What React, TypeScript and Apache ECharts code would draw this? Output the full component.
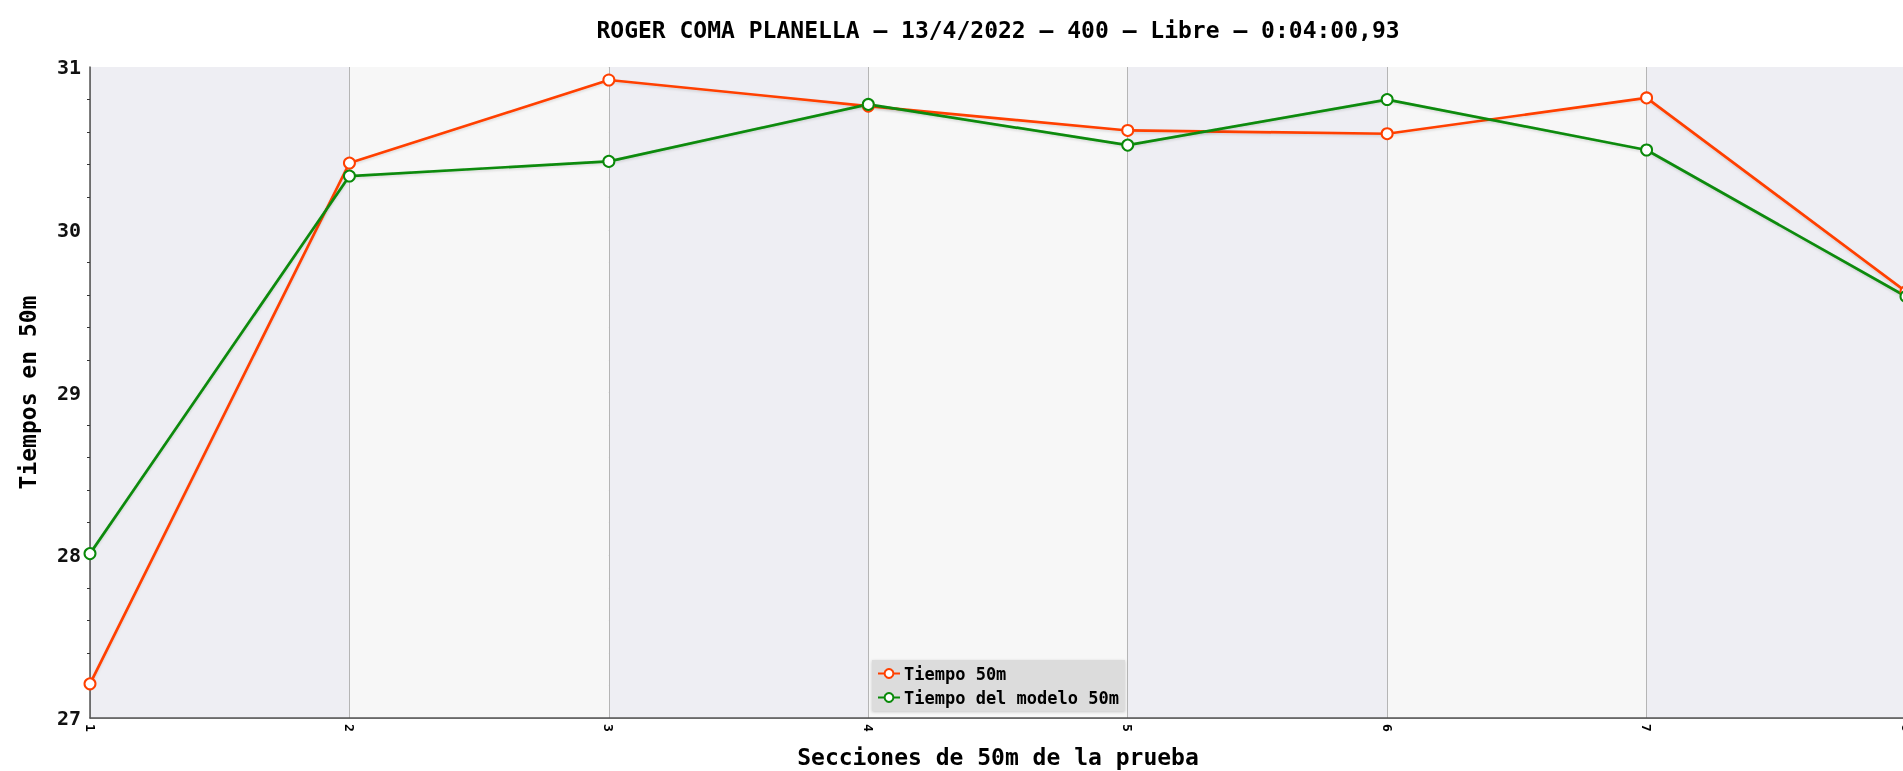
import React, { useEffect, useRef } from "react";
import * as echarts from "echarts";

const sections = [1, 2, 3, 4, 5, 6, 7, 8];
const tiempo50 = [27.21, 30.41, 30.92, 30.76, 30.61, 30.59, 30.81, 29.62];
const tiempoModelo50 = [28.01, 30.33, 30.42, 30.77, 30.52, 30.8, 30.49, 29.59];
const seriesNames = ["Tiempo 50m", "Tiempo del modelo 50m"];
const titleText = "ROGER COMA PLANELLA – 13/4/2022 – 400 – Libre – 0:04:00,93";
const xName = "Secciones de 50m de la prueba";
const yName = "Tiempos en 50m";

const FONT = "'DejaVu Sans Mono', monospace";

export default function App() {
  const ref = useRef<HTMLDivElement>(null);
  useEffect(() => {
    if (!ref.current) return;
    document.documentElement.style.overflow = "hidden";
    document.body.style.overflow = "hidden";
    const chart = echarts.init(ref.current, undefined, { renderer: "svg" });
    const mk = (vals: number[]) => sections.map((s, i) => [s, vals[i]]);
    const lineSeries = (name: string, vals: number[], color: string) => ({
      name,
      type: "line",
      data: mk(vals),
      symbol: "emptyCircle",
      symbolSize: 11,
      color,
      lineStyle: {
        width: 2.7,
        color,
        shadowColor: "rgba(0,0,0,0.12)",
        shadowBlur: 2,
        shadowOffsetY: 1.5,
      },
      itemStyle: { color, borderWidth: 2.7 },
      clip: false,
      z: 3,
    });
    chart.setOption({
      animation: false,
      title: {
        text: titleText,
        left: 998,
        top: 18,
        padding: 0,
        textAlign: "center",
        textStyle: { fontFamily: FONT, fontWeight: "bold", fontSize: 23, color: "#000" },
      },
      grid: {
        left: 90,
        top: 67,
        width: 1816,
        height: 651,
        containLabel: false,
        outerBoundsMode: "none",
      },
      legend: {
        orient: "vertical",
        left: 872,
        top: 660,
        backgroundColor: "#dcdcdc",
        padding: [5, 6, 5, 5],
        itemGap: 7,
        itemWidth: 22,
        itemHeight: 11,
        shadowBlur: 3,
        shadowColor: "rgba(0,0,0,0.2)",
        shadowOffsetY: 1,
        textStyle: { fontFamily: FONT, fontWeight: "bold", fontSize: 17, color: "#000", padding: [0, 0, 0, -1] },
        data: seriesNames,
      },
      xAxis: {
        type: "value",
        min: 1,
        max: 8,
        interval: 1,
        name: xName,
        nameLocation: "middle",
        nameGap: 27,
        nameTextStyle: { fontFamily: FONT, fontWeight: "bold", fontSize: 23, color: "#000" },
        axisLine: { show: true, lineStyle: { color: "#555", width: 1.5 } },
        axisTick: { show: false },
        axisLabel: {
          rotate: -90,
          margin: 6,
          fontFamily: FONT,
          fontWeight: "bold",
          fontSize: 13,
          color: "#000",
          showMaxLabel: true,
          showMinLabel: true,
        },
        splitLine: { show: true, lineStyle: { color: "#b5b5b5", width: 1 } },
        splitArea: { show: true, areaStyle: { color: ["#eeeef3", "#f7f7f7"] } },
      },
      yAxis: {
        type: "value",
        min: 27,
        max: 31,
        interval: 1,
        name: yName,
        nameLocation: "middle",
        nameGap: 51,
        nameTextStyle: { fontFamily: FONT, fontWeight: "bold", fontSize: 23, color: "#000" },
        axisLine: { show: true, lineStyle: { color: "#555", width: 1.5 } },
        axisTick: { show: false },
        minorTick: { show: true, splitNumber: 5, length: 3, lineStyle: { color: "#333", width: 1 } },
        minorSplitLine: { show: true, lineStyle: { color: "#dddddd", width: 1 } },
        axisLabel: {
          margin: 9,
          fontFamily: FONT,
          fontWeight: "bold",
          fontSize: 20,
          color: "#111",
        },
        splitLine: { show: true, lineStyle: { color: "#a8a8a8", width: 1 } },
      },
      series: [
        lineSeries(seriesNames[0], tiempo50, "#ff4000"),
        lineSeries(seriesNames[1], tiempoModelo50, "#0a8a0a"),
      ],
    });
    return () => chart.dispose();
  }, []);
  return (
    <div
      ref={ref}
      style={{ position: "fixed", left: 0, top: 0, width: 1903, height: 771 }}
    />
  );
}
